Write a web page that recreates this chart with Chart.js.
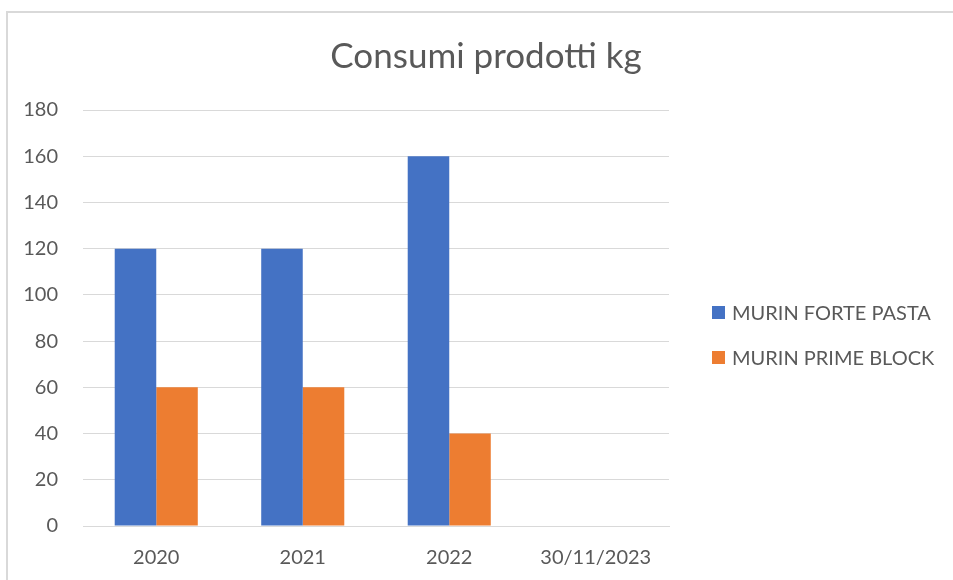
<!DOCTYPE html>
<html>
<head>
<meta charset="utf-8">
<script src="https://cdn.jsdelivr.net/npm/chart.js@4/dist/chart.umd.min.js"></script>
<style>
  html, body { margin: 0; padding: 0; background: #fff; }
  #wrap { position: absolute; left: 0; top: 0; width: 953px; height: 580px; overflow: hidden; }
  #frame { position: absolute; left: 6px; top: 11px; width: 1000px; height: 700px;
           border-left: 2px solid #d9d9d9; border-top: 2px solid #d9d9d9; box-sizing: border-box; }
  canvas { position: absolute; left: 0; top: 0; }
  #legend { position: absolute; left: 712px; top: 300px; font-family: Lato, 'Open Sans', sans-serif;
            font-size: 20px; color: #595959; }
  .item { position: absolute; left: 0; height: 24px; line-height: 24px; white-space: nowrap; }
  .sw { display: inline-block; width: 13px; height: 13px; vertical-align: middle; margin-right: 7px; position: relative; top: -2px; }
</style>
</head>
<body>
<div id="wrap">
  <div id="frame"></div>
  <canvas id="c" width="953" height="580"></canvas>
  <div id="legend"></div>
</div>
<script>
const chartTitle = "Consumi prodotti kg";
const categories = ["2020", "2021", "2022", "30/11/2023"];
const seriesNames = ["MURIN FORTE PASTA", "MURIN PRIME BLOCK"];
const seriesColors = ["#4472C4", "#ED7D31"];
const forteValues = [120, 120, 160, 0];
const primeValues = [60, 60, 40, 0];
const yMin = 0, yMax = 180, yStep = 20;

const FONT = "Lato, 'Open Sans', sans-serif";
const TEXT = "#595959";

const chart = new Chart(document.getElementById("c"), {
  type: "bar",
  data: {
    labels: categories,
    datasets: [
      { label: seriesNames[0], data: forteValues, backgroundColor: seriesColors[0], borderWidth: 0 },
      { label: seriesNames[1], data: primeValues, backgroundColor: seriesColors[1], borderWidth: 0 }
    ]
  },
  options: {
    responsive: false,
    animation: false,
    devicePixelRatio: 1,
    layout: { padding: { left: 20, right: 1, top: 36, bottom: 0 } },
    datasets: { bar: { categoryPercentage: 0.567, barPercentage: 1.0 } },
    plugins: {
      title: {
        display: true, text: chartTitle, color: TEXT,
        font: { family: FONT, size: 35, weight: "normal" },
        padding: { top: 0, bottom: 32 }
      },
      legend: { display: false },
      tooltip: { enabled: false }
    },
    scales: {
      x: {
        grid: { display: false, drawTicks: false },
        border: { display: true, color: "#d9d9d9", width: 1 },
        ticks: { color: TEXT, font: { family: FONT, size: 20 }, padding: 20, maxRotation: 0 },
        afterFit: (scale) => { scale.height = 54; }
      },
      y: {
        min: yMin, max: yMax,
        grid: { color: "#d9d9d9", lineWidth: 1, drawTicks: false },
        border: { display: false },
        ticks: { stepSize: yStep, color: TEXT, font: { family: FONT, size: 20 }, padding: 25 },
        afterFit: (scale) => { scale.width = 63; }
      },
      gap: {
        type: "linear",
        position: "right",
        display: true,
        grid: { display: false, drawTicks: false },
        border: { display: false },
        ticks: { display: false },
        afterFit: (scale) => { scale.width = 283; }
      }
    }
  }
});

// HTML legend built from the chart's datasets
const legendEl = document.getElementById("legend");
chart.data.datasets.forEach((ds, i) => {
  const item = document.createElement("div");
  item.className = "item";
  item.style.top = (i * 45) + "px";
  const sw = document.createElement("span");
  sw.className = "sw";
  sw.style.background = ds.backgroundColor;
  item.appendChild(sw);
  item.appendChild(document.createTextNode(ds.label));
  legendEl.appendChild(item);
});
</script>
</body>
</html>
